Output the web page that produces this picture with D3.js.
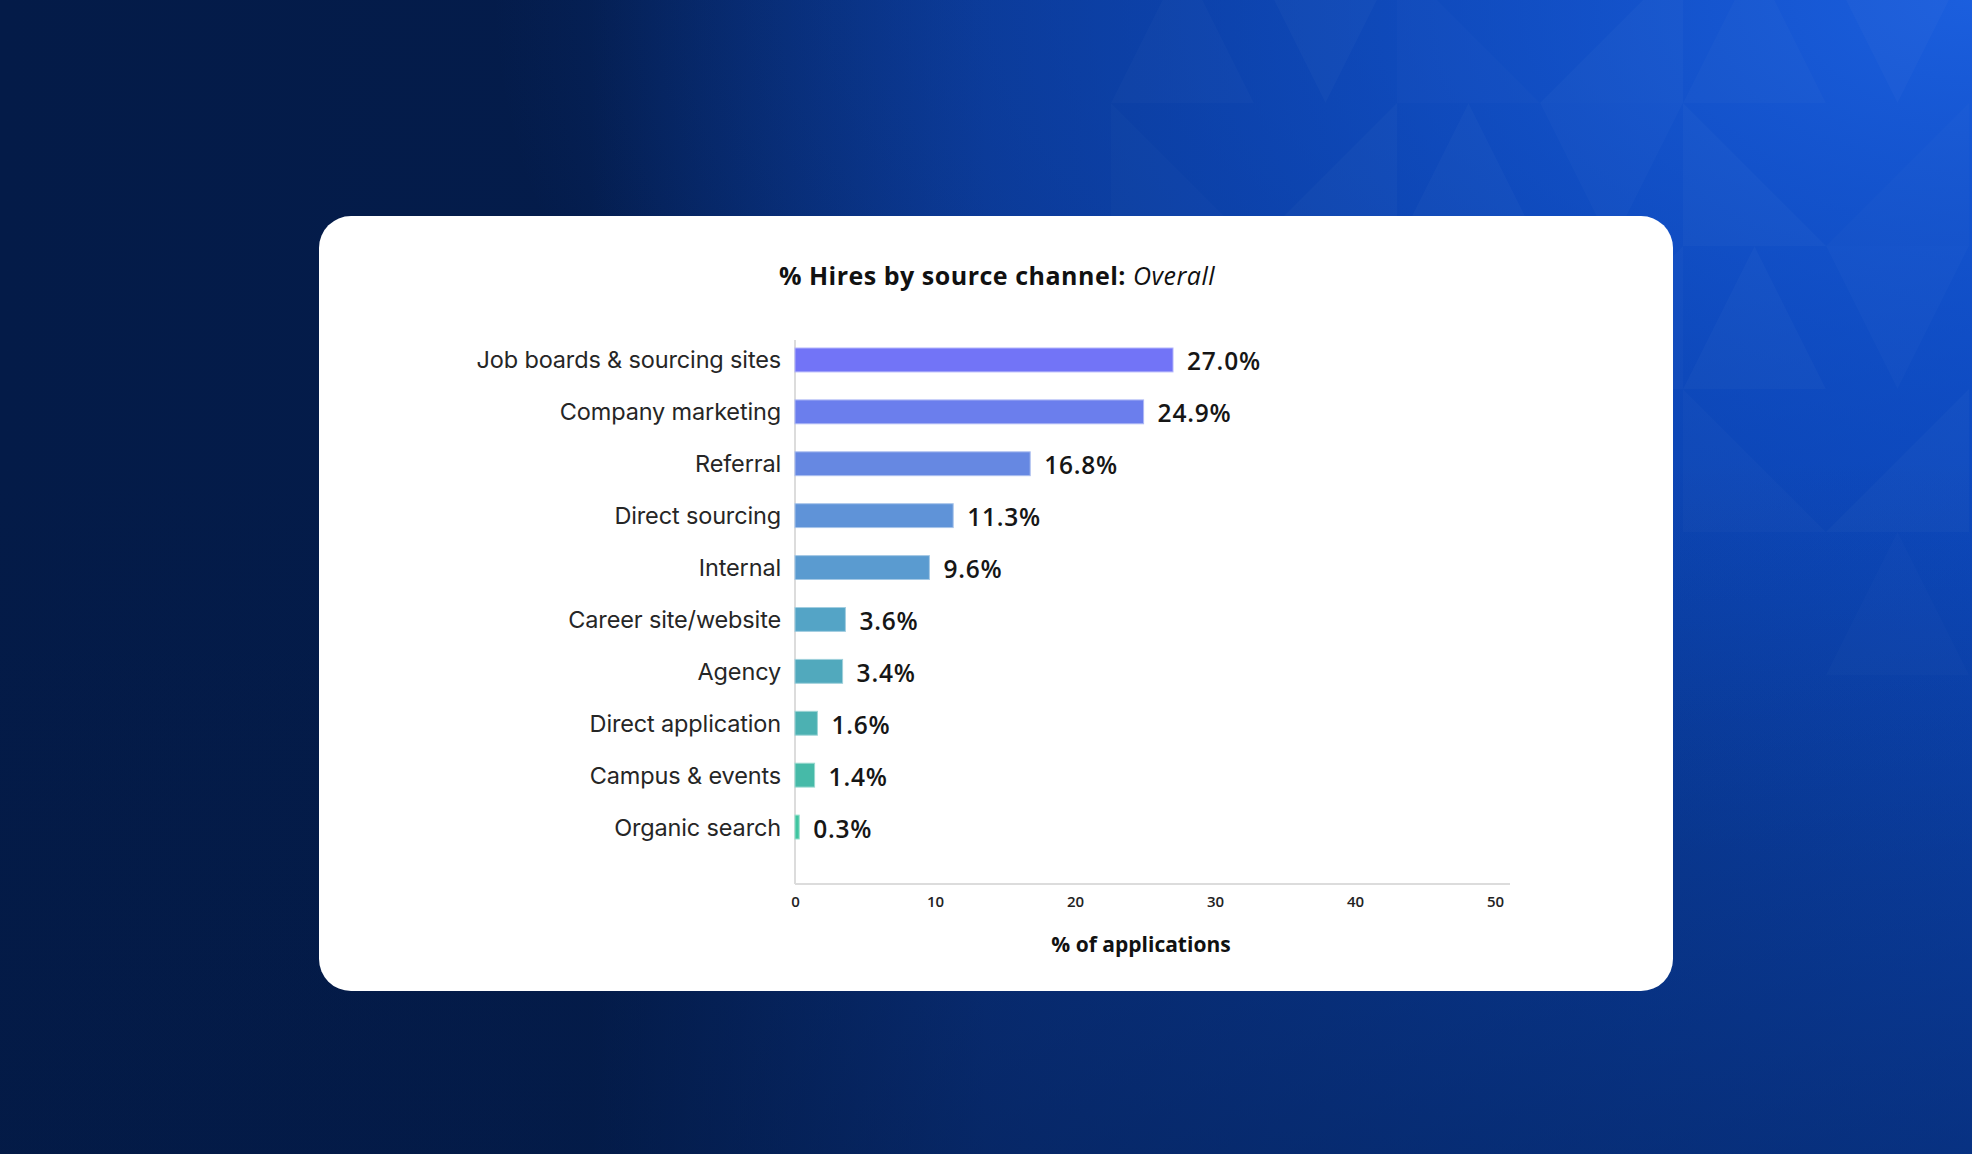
<!DOCTYPE html>
<html>
<head>
<meta charset="utf-8">
<script src="https://cdn.jsdelivr.net/npm/d3@7"></script>
<style>
  html, body { margin: 0; padding: 0; background: #041b48; }
  svg { display: block; }
</style>
</head>
<body>
<script>
// ---- data ----
const categories = [
  "Job boards & sourcing sites",
  "Company marketing",
  "Referral",
  "Direct sourcing",
  "Internal",
  "Career site/website",
  "Agency",
  "Direct application",
  "Campus & events",
  "Organic search"
];
const values = [27.0, 24.9, 16.8, 11.3, 9.6, 3.6, 3.4, 1.6, 1.4, 0.3];
const barColors = ["#7274f7", "#6b7eed", "#6688e2", "#5f93d8", "#5a9bd0", "#54a4c6", "#51a9bd", "#4cb1b2", "#46baa8", "#3fc5a0"];
const xTicks = [0, 10, 20, 30, 40, 50];
const titleBold = "% Hires by source channel: ";
const titleItalic = "Overall";
const xTitle = "% of applications";

// ---- layout ----
const W = 1972, H = 1154;
const svg = d3.select("body").append("svg").attr("width", W).attr("height", H);
const defs = svg.append("defs");

const bg = defs.append("linearGradient").attr("id", "bg").attr("x1", 0).attr("y1", 0).attr("x2", 1).attr("y2", 0);
[[0, "#041b48"], [0.3, "#041c4b"], [0.5, "#0a3282"], [0.75, "#0a3c9c"], [1, "#0c45b4"]]
  .forEach(([o, c]) => bg.append("stop").attr("offset", o).attr("stop-color", c));
const glow = defs.append("radialGradient").attr("id", "glow").attr("cx", 1).attr("cy", 0).attr("r", 0.75);
glow.append("stop").attr("offset", 0).attr("stop-color", "#1c60e0").attr("stop-opacity", 0.95);
glow.append("stop").attr("offset", 0.55).attr("stop-color", "#0f4fcc").attr("stop-opacity", 0.45);
glow.append("stop").attr("offset", 1).attr("stop-color", "#0f4fcc").attr("stop-opacity", 0);
const shade = defs.append("linearGradient").attr("id", "shade").attr("x1", 0).attr("y1", 0).attr("x2", 0).attr("y2", 1);
shade.append("stop").attr("offset", 0.4).attr("stop-color", "#031a45").attr("stop-opacity", 0);
shade.append("stop").attr("offset", 1).attr("stop-color", "#031a45").attr("stop-opacity", 0.45);

svg.append("rect").attr("width", W).attr("height", H).attr("fill", "url(#bg)");
svg.append("rect").attr("width", W).attr("height", H).attr("fill", "url(#glow)");
svg.append("rect").attr("width", W).attr("height", H).attr("fill", "url(#shade)");

// decorative triangle pattern (top-right)
const deco = svg.append("g").attr("fill", "#ffffff");
const cell = 143, gx0 = 1111, gy0 = -40;
const triSpec = [
  [0,0,"a",0.04],[1,0,"b",0.05],[2,0,"c",0.03],[3,0,"d",0.05],[4,0,"a",0.04],[5,0,"b",0.05],
  [0,1,"c",0.035],[1,1,"d",0.045],[2,1,"a",0.05],[3,1,"b",0.04],[4,1,"c",0.05],[5,1,"d",0.03],
  [1,2,"b",0.04],[2,2,"c",0.035],[3,2,"d",0.04],[4,2,"a",0.05],[5,2,"b",0.04],
  [4,3,"c",0.04],[5,3,"d",0.05],[5,4,"a",0.035]
];
triSpec.forEach(([i, j, k, o]) => {
  const x = gx0 + i * cell, y = gy0 + j * cell, s = cell;
  let pts;
  if (k === "a") pts = [[x, y + s], [x + s / 2, y], [x + s, y + s]];
  else if (k === "b") pts = [[x, y], [x + s, y], [x + s / 2, y + s]];
  else if (k === "c") pts = [[x, y], [x + s, y + s], [x, y + s]];
  else pts = [[x + s, y], [x + s, y + s], [x, y + s]];
  deco.append("polygon").attr("points", pts.map(p => p.join(",")).join(" ")).attr("fill-opacity", o * 0.5);
});

// card
const card = { x: 319, y: 216, w: 1354, h: 775 };
svg.append("rect").attr("x", card.x).attr("y", card.y).attr("width", card.w).attr("height", card.h)
  .attr("rx", 32).attr("fill", "#ffffff");

// title
svg.append("text")
  .attr("x", 997).attr("y", 275)
  .attr("text-anchor", "middle").attr("dominant-baseline", "central")
  .attr("font-family", "'Open Sans', sans-serif").attr("font-size", 25).attr("letter-spacing", 0.5).attr("fill", "#111")
  .call(t => {
    t.append("tspan").attr("font-weight", 700).text(titleBold);
    t.append("tspan").attr("font-weight", 400).attr("font-style", "italic").text(titleItalic);
  });

// scales
const x = d3.scaleLinear().domain([0, 50]).range([795, 1495]);
const y = d3.scaleBand().domain(categories).range([334, 853]).paddingInner(0.54).paddingOuter(0.27);

// axes lines
const axisColor = "#dcdcdc";
svg.append("line").attr("x1", x(0)).attr("x2", x(0)).attr("y1", 340).attr("y2", 884)
  .attr("stroke", axisColor).attr("stroke-width", 2);
svg.append("line").attr("x1", x(0)).attr("x2", 1510).attr("y1", 884).attr("y2", 884)
  .attr("stroke", axisColor).attr("stroke-width", 2);

// x axis ticks
const xAxis = svg.append("g").attr("transform", "translate(0,884)")
  .call(d3.axisBottom(x).tickValues(xTicks).tickSize(0).tickPadding(12).tickFormat(d3.format("d")));
xAxis.select(".domain").remove();
xAxis.selectAll("text")
  .attr("font-family", "'Open Sans', sans-serif").attr("font-size", 15).attr("font-weight", 600).attr("fill", "#222");

// x axis title
svg.append("text").attr("x", 1141).attr("y", 944)
  .attr("text-anchor", "middle").attr("dominant-baseline", "central")
  .attr("font-family", "'Open Sans', sans-serif").attr("font-size", 21).attr("font-weight", 700).attr("fill", "#111")
  .text(xTitle);

// bars
const rows = categories.map((c, i) => ({ c, v: values[i], col: barColors[i] }));
svg.append("g").selectAll("rect").data(rows).join("rect")
  .attr("x", x(0)).attr("y", d => y(d.c))
  .attr("width", d => x(d.v) - x(0)).attr("height", y.bandwidth())
  .attr("fill", d => d.col)
  .attr("stroke", d => d3.interpolateRgb(d.col, "#ffffff")(0.45)).attr("stroke-width", 1);

// category labels
svg.append("g").selectAll("text").data(rows).join("text")
  .attr("x", 781).attr("y", d => y(d.c) + y.bandwidth() / 2)
  .attr("text-anchor", "end").attr("dominant-baseline", "central")
  .attr("font-family", "Inter, sans-serif").attr("font-size", 23.5).attr("font-weight", 400)
  .attr("letter-spacing", -0.15).attr("fill", "#262626")
  .text(d => d.c);

// value labels
svg.append("g").selectAll("text").data(rows).join("text")
  .attr("x", d => x(d.v) + 14).attr("y", d => y(d.c) + y.bandwidth() / 2 + 1)
  .attr("dominant-baseline", "central")
  .attr("font-family", "'Open Sans', sans-serif").attr("font-size", 24.5).attr("font-weight", 600)
  .attr("letter-spacing", 0.8).attr("fill", "#161616")
  .text(d => d.v.toFixed(1) + "%");
</script>
</body>
</html>
